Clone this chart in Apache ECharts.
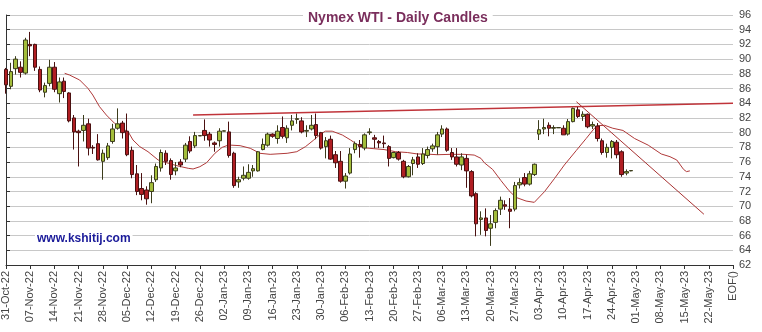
<!DOCTYPE html>
<html>
<head>
<meta charset="utf-8">
<script src="https://cdn.jsdelivr.net/npm/echarts@6/dist/echarts.min.js"></script>
<style>
html,body{margin:0;padding:0;background:#fff;}
#chart{width:762px;height:332px;}
</style>
</head>
<body>
<div id="chart"></div>
<script>
const weekLabels = ['31-Oct-22','07-Nov-22','14-Nov-22','21-Nov-22','28-Nov-22','05-Dec-22','12-Dec-22','19-Dec-22','26-Dec-22','02-Jan-23','09-Jan-23','16-Jan-23','23-Jan-23','30-Jan-23','06-Feb-23','13-Feb-23','20-Feb-23','27-Feb-23','06-Mar-23','13-Mar-23','20-Mar-23','27-Mar-23','03-Apr-23','10-Apr-23','17-Apr-23','24-Apr-23','01-May-23','08-May-23','15-May-23','22-May-23','EOF()'];

const opens  = [88.6,86.3,88.7,88.9,88.1, 92.0,92.0,88.6,85.5,86.7, 88.9,85.3,87.0,85.4,82.0, 80.2,80.3,81.2,78.0,78.5,
                76.1,76.6,78.8,80.6,81.3, 80.2,77.6,74.4,72.4,72.2, 72.0,73.6,75.2,77.2,76.2, 74.8,76.0,76.4,78.8,78.2,
                79.55,80.3,79.8,78.6,78.9, 80.2,80.1,77.2,73.3,73.8, 73.8,74.8,74.8,77.7,78.3, 79.8,79.2,80.7,79.3,81.0,
                81.8,81.6,80.2,80.5,81.1, 80.0,78.1,79.1,77.0,76.1, 73.4,74.5,77.7,78.4,77.9, 80.0,79.3,78.8,78.6,78.1,
                76.6,77.3,76.1,74.0,75.8, 76.7,75.8,76.9,77.8,78.1, 79.8,80.5,77.3,76.7,75.6, 76.5,74.7,71.7,68.2,68.4,
                67.0,67.8,69.6,70.2,69.6, 69.6,72.9,73.9,73.0,74.3, 79.8,80.5,81.0,80.6,80.65, 80.6,79.8,81.5,83.1,82.2,
                82.5,80.9,80.9,78.9,77.3, 78.0,78.7,77.4,74.5,74.8];
const closes = [86.5,88.3,90.0,88.2,92.6, 91.8,88.9,85.8,86.4,88.9, 85.9,86.9,85.6,81.6,80.1, 80.0,81.0,77.9,77.9,76.3,
                77.2,78.2,80.5,81.2,80.0, 77.0,74.3,72.0,71.6,71.0, 73.2,75.4,77.3,76.1,74.3, 75.2,75.6,78.3,77.5,79.6,
                79.6,79.6,79.0,78.4,80.2, 80.25,76.9,72.8,73.6,74.2, 74.6,75.1,77.4,78.4,79.8, 79.5,80.2,79.5,80.6,81.6,
                81.9,80.1,80.3,81.0,79.6, 77.9,78.9,76.4,75.9,73.4, 74.1,77.1,78.5,78.1,79.7, 80.1,79.1,78.6,78.5,76.5,
                77.3,76.4,74.0,75.4,76.3, 75.7,77.1,77.7,78.2,79.7, 80.5,77.6,76.7,75.7,76.7, 74.8,71.4,67.6,68.4,66.7,
                67.6,69.4,70.8,70.0,69.3, 72.8,73.2,73.0,74.4,75.7, 80.4,80.7,80.6,80.7,80.7, 79.7,81.5,83.3,82.2,82.5,
                80.8,81.1,79.2,77.3,78.0, 78.8,77.0,74.3,74.7,74.85];
const lows   = [85.3,85.9,87.9,87.5,87.9, 90.4,88.4,85.5,84.8,86.3, 85.5,84.1,84.7,81.4,77.7, 75.4,78.8,76.9,77.1,76.2,
                73.6,76.3,78.5,80.4,79.2, 76.8,73.8,71.5,70.8,70.2, 70.4,73.3,74.7,75.6,73.6, 74.2,75.3,76.0,77.2,77.9,
                79.55,78.9,78.1,77.4,78.1, 80.2,76.6,72.5,72.5,73.5, 73.6,74.0,74.7,77.6,78.1, 79.3,78.5,79.2,78.6,80.3,
                81.2,79.9,79.4,80.3,79.1, 77.7,76.5,76.3,75.2,73.2, 72.4,74.3,77.2,76.6,77.6, 79.7,77.9,77.9,77.9,75.4,
                76.5,76.2,73.8,73.9,74.2, 75.2,75.6,76.5,77.4,77.0, 79.4,77.4,76.3,75.4,74.9, 72.5,71.2,65.9,66.1,65.9,
                64.6,67.0,68.8,69.5,67.0, 69.3,72.4,72.7,72.8,74.1, 79.0,79.8,79.5,79.8,80.65, 79.7,79.6,81.4,82.0,81.6,
                80.6,80.5,78.8,77.0,76.6, 76.5,76.5,74.0,74.2,74.75];
const highs  = [88.8,89.5,90.4,89.7,92.9, 93.7,92.1,89.0,86.8,89.9, 89.6,87.5,87.5,85.5,82.4, 80.4,82.4,81.9,78.3,79.8,
                77.7,78.6,81.2,83.3,81.6, 82.6,78.1,75.6,74.5,72.7, 74.2,75.8,77.7,77.6,76.5, 76.0,76.4,78.6,79.5,80.1,
                79.6,81.8,80.1,78.8,80.6, 80.3,81.5,77.4,74.0,75.4, 75.7,75.6,77.5,79.2,80.0, 79.9,81.0,82.2,81.0,82.4,
                82.6,82.1,81.0,82.4,82.6, 80.1,79.4,79.6,77.5,77.5, 74.5,77.9,78.8,79.0,79.9, 80.6,79.7,79.0,79.6,78.3,
                77.4,77.5,76.3,75.6,76.7, 77.2,77.9,78.1,78.5,80.1, 81.0,80.7,77.9,77.9,77.2, 77.0,74.9,71.9,69.3,69.7,
                68.8,69.7,71.3,70.8,71.1, 73.3,73.8,74.5,74.8,75.8, 81.7,81.9,81.4,81.0,80.7, 81.0,81.85,83.4,83.5,82.9,
                82.6,81.5,81.3,79.2,78.5, 79.0,79.0,77.6,75.0,74.9];

// displaced moving average: [day index, value]
const maPoints = [[12.1,88.07],[13.1,87.84],[15.2,87.16],[16.9,86.03],[17.9,85.12],[19.3,83.53],[20.7,82.4],[22.4,81.27],
  [23.8,80.6],[25.2,80.13],[26.2,79.0],[27.6,78.1],[29.3,77.41],[31.4,76.28],[33.5,75.83],[35.5,75.46],[37.6,75.15],
  [38.6,75.06],[40.0,75.37],[41.4,75.92],[43.1,77.19],[44.6,78.0],[45.9,78.32],[48.3,78.23],[50.4,77.87],[52.4,77.19],
  [54.5,77.05],[58.0,77.19],[60.0,77.41],[61.8,78.1],[63.5,79.0],[64.9,79.8],[65.9,80.2],[67.3,80.2],[69.4,79.68],
  [71.1,79.0],[73.1,78.1],[74.5,77.9],[78.0,77.7],[80.4,77.41],[82.8,77.3],[84.9,77.1],[86.9,77.08],[89.0,77.0],
  [91.8,77.05],[94.5,77.05],[96.6,76.95],[98.0,76.5],[98.7,75.9],[100.4,75.0],[102.1,73.5],[103.8,72.1],[105.2,71.2],
  [107.3,70.7],[109.0,70.52],[111.1,71.97],[113.2,73.79],[115.2,75.6],[117.7,77.6],[119.7,79.2],[121.4,80.59],
  [122.2,80.95],[123.5,81.0],[125.2,80.6],[127.3,80.3],[129.7,79.2],[132.5,78.3],[135.2,77.1],[137.0,76.73],
  [138.4,76.28],[139.8,75.0],[140.4,74.7],[141.1,74.8]];
const resistanceLine = [[38.6,82.4],[150,84.0]];
const downTrendLine = [[117.7,84.2],[144.0,68.9]];

const categories = [];
weekLabels.forEach((w, k) => {
  categories.push(w);
  if (k < weekLabels.length - 1) for (let j = 1; j <= 4; j++) categories.push(w + '#' + j);
});
const candleData = opens.map((o, i) => [o, closes[i], lows[i], highs[i]]);

const FONT = 'Liberation Sans, Arial, sans-serif';
const chart = echarts.init(document.getElementById('chart'));
chart.setOption({
  animation: false,
  backgroundColor: '#fff',
  title: [
    { text: 'Nymex WTI - Daily Candles', left: 303, top: 7, padding: [4, 5], backgroundColor: '#fff',
      textStyle: { fontFamily: FONT, fontSize: 14, fontWeight: 'bold', color: '#7a2e5c' } },
    { text: 'www.kshitij.com', left: 35, top: 231, padding: [2, 2], backgroundColor: '#fff',
      textStyle: { fontFamily: FONT, fontSize: 12, fontWeight: 'bold', color: '#1a1a99' } }
  ],
  grid: { left: 6, right: 29, top: 15, bottom: 67 },
  xAxis: [
    { type: 'category', data: categories, boundaryGap: false,
      axisLine: { lineStyle: { color: '#333' } },
      axisTick: { interval: 4, length: 4, lineStyle: { color: '#333' } },
      axisLabel: { interval: 4, rotate: 90, fontSize: 11, color: '#444', fontFamily: FONT, margin: 6,
        formatter: v => v.indexOf('#') >= 0 ? '' : v },
      splitLine: { show: false } },
    { type: 'value', min: 0, max: 150, show: false }
  ],
  yAxis: { type: 'value', position: 'right', min: 62, max: 96, interval: 2,
    axisLine: { show: true, lineStyle: { color: '#333' } },
    axisTick: { show: true, length: 4, lineStyle: { color: '#333' } },
    axisLabel: { fontSize: 11, color: '#444', fontFamily: FONT, margin: 6 },
    splitLine: { lineStyle: { color: '#c8c8c8' } } },
  series: [
    { type: 'line', xAxisIndex: 1, data: resistanceLine, symbol: 'none', lineStyle: { color: '#c0343a', width: 1.5 }, z: 1 },
    { type: 'line', xAxisIndex: 1, data: maPoints, symbol: 'none', lineStyle: { color: '#b03a3a', width: 1 }, z: 1 },
    { type: 'line', xAxisIndex: 1, data: downTrendLine, symbol: 'none', lineStyle: { color: '#a83232', width: 1 }, z: 1 },
    { type: 'candlestick', data: candleData, barWidth: 4, z: 3,
      itemStyle: { color: '#a3bd3a', color0: '#b01e23', borderColor: '#3c3c1c', borderColor0: '#4a1010', borderWidth: 1 } }
  ]
});
</script>
</body>
</html>
